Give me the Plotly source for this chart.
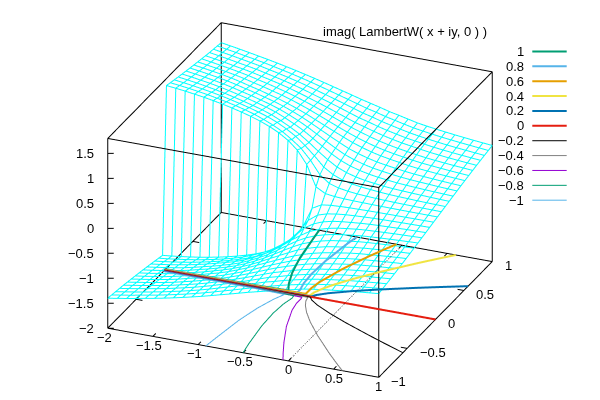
import plotly.graph_objects as go

x_grid = [-2,-1.897,-1.793,-1.69,-1.586,-1.483,-1.379,-1.276,-1.172,-1.069,-.966,-.862,-.759,-.655,-.552,-.448,-.345,-.241,-.138,-.034,.069,.172,.276,.379,.483,.586,.69,.793,.897,1]
y_grid = [-1,-.931,-.862,-.793,-.724,-.655,-.586,-.517,-.448,-.379,-.31,-.241,-.172,-.103,-.0345,.0345,.103,.172,.241,.31,.379,.448,.517,.586,.655,.724,.793,.862,.931,1]
z_m100 = [-1.40,-1.369,-1.337,-1.303,-1.268,-1.233,-1.195,-1.155,-1.113,-1.069,-1.024,-.975,-.925,-.875,-.825,-.773,-.727,-.68,-.63,-.59,-.548,-.505,-.475,-.448,-.425,-.402,-.381,-.361,-.343,-.325]
z_m093 = [-1.414,-1.383,-1.352,-1.317,-1.283,-1.248,-1.208,-1.167,-1.125,-1.079,-1.031,-.979,-.926,-.873,-.819,-.763,-.708,-.663,-.612,-.569,-.527,-.486,-.456,-.428,-.403,-.381,-.36,-.341,-.323,-.305]
z_m086 = [-1.429,-1.398,-1.366,-1.332,-1.298,-1.263,-1.221,-1.18,-1.136,-1.089,-1.038,-.983,-.928,-.871,-.813,-.753,-.694,-.647,-.594,-.549,-.507,-.467,-.436,-.408,-.382,-.359,-.339,-.321,-.303,-.286]
z_m079 = [-1.443,-1.412,-1.381,-1.346,-1.313,-1.278,-1.235,-1.192,-1.148,-1.099,-1.046,-.987,-.929,-.869,-.807,-.743,-.68,-.63,-.576,-.528,-.486,-.448,-.417,-.388,-.36,-.338,-.318,-.3,-.283,-.267]
z_m072 = [-1.459,-1.428,-1.397,-1.362,-1.329,-1.293,-1.249,-1.206,-1.16,-1.11,-1.054,-.993,-.931,-.867,-.80,-.732,-.665,-.611,-.555,-.505,-.462,-.425,-.394,-.365,-.337,-.316,-.296,-.279,-.262,-.247]
z_m066 = [-1.477,-1.447,-1.417,-1.384,-1.349,-1.311,-1.265,-1.221,-1.172,-1.122,-1.065,-1.001,-.936,-.865,-.792,-.719,-.648,-.586,-.527,-.475,-.432,-.396,-.365,-.335,-.309,-.289,-.271,-.255,-.24,-.225]
z_m059 = [-1.495,-1.466,-1.436,-1.404,-1.369,-1.328,-1.28,-1.236,-1.185,-1.135,-1.076,-1.01,-.94,-.863,-.785,-.706,-.631,-.561,-.50,-.446,-.402,-.366,-.336,-.306,-.281,-.263,-.246,-.23,-.216,-.203]
z_m052 = [-1.513,-1.486,-1.456,-1.425,-1.388,-1.345,-1.295,-1.25,-1.196,-1.147,-1.087,-1.018,-.944,-.86,-.777,-.693,-.614,-.535,-.471,-.416,-.372,-.337,-.307,-.277,-.254,-.237,-.221,-.206,-.193,-.181]
z_m045 = [-1.532,-1.506,-1.476,-1.446,-1.41,-1.367,-1.318,-1.273,-1.219,-1.168,-1.107,-1.034,-.955,-.865,-.77,-.675,-.585,-.495,-.43,-.375,-.33,-.298,-.27,-.243,-.222,-.207,-.193,-.18,-.168,-.158]
z_m038 = [-1.552,-1.526,-1.496,-1.466,-1.43,-1.389,-1.341,-1.296,-1.244,-1.19,-1.128,-1.052,-.967,-.872,-.765,-.655,-.55,-.455,-.385,-.33,-.287,-.257,-.23,-.207,-.19,-.177,-.165,-.153,-.143,-.134]
z_m031 = [-1.572,-1.547,-1.517,-1.487,-1.452,-1.411,-1.365,-1.32,-1.269,-1.215,-1.151,-1.07,-.98,-.88,-.76,-.635,-.515,-.415,-.34,-.285,-.245,-.215,-.192,-.172,-.158,-.147,-.136,-.127,-.118,-.11]
z_m024 = [-1.593,-1.568,-1.54,-1.508,-1.473,-1.435,-1.39,-1.343,-1.293,-1.24,-1.175,-1.09,-.995,-.888,-.757,-.613,-.48,-.365,-.29,-.236,-.198,-.173,-.151,-.135,-.125,-.115,-.106,-.099,-.092,-.086]
z_m017 = [-1.615,-1.592,-1.565,-1.536,-1.503,-1.466,-1.424,-1.38,-1.331,-1.276,-1.215,-1.137,-1.04,-.925,-.775,-.602,-.412,-.293,-.22,-.175,-.148,-.13,-.112,-.099,-.09,-.083,-.076,-.07,-.066,-.062]
z_m010 = [-1.637,-1.616,-1.591,-1.563,-1.533,-1.497,-1.458,-1.415,-1.366,-1.31,-1.24,-1.16,-1.065,-.94,-.797,-.593,-.337,-.198,-.14,-.109,-.089,-.077,-.067,-.0595,-.054,-.0495,-.0457,-.0424,-.0397,-.0372]
z_m003 = [-1.66,-1.64,-1.617,-1.59,-1.562,-1.528,-1.492,-1.45,-1.402,-1.35,-1.29,-1.215,-1.125,-1.005,-.845,-.59,-.175,-.073,-.048,-.037,-.03,-.026,-.0226,-.0202,-.0182,-.0167,-.0154,-.0142,-.0133,-.0125]
z_p003 = [1.66,1.64,1.617,1.59,1.562,1.528,1.492,1.45,1.402,1.35,1.29,1.215,1.125,1.005,.845,.59,.175,.073,.048,.037,.03,.026,.0226,.0202,.0182,.0167,.0154,.0142,.0133,.0125]
z_p010 = [1.637,1.616,1.591,1.563,1.533,1.497,1.458,1.415,1.366,1.31,1.24,1.16,1.065,.94,.797,.593,.337,.198,.14,.109,.089,.077,.067,.0595,.054,.0495,.0457,.0424,.0397,.0372]
z_p017 = [1.615,1.592,1.565,1.536,1.503,1.466,1.424,1.38,1.331,1.276,1.215,1.137,1.04,.925,.775,.602,.412,.293,.22,.175,.148,.13,.112,.099,.09,.083,.076,.07,.066,.062]
z_p024 = [1.593,1.568,1.54,1.508,1.473,1.435,1.39,1.343,1.293,1.24,1.175,1.09,.995,.888,.757,.613,.48,.365,.29,.236,.198,.173,.151,.135,.125,.115,.106,.099,.092,.086]
z_p031 = [1.572,1.547,1.517,1.487,1.452,1.411,1.365,1.32,1.269,1.215,1.151,1.07,.98,.88,.76,.635,.515,.415,.34,.285,.245,.215,.192,.172,.158,.147,.136,.127,.118,.11]
z_p038 = [1.552,1.526,1.496,1.466,1.43,1.389,1.341,1.296,1.244,1.19,1.128,1.052,.967,.872,.765,.655,.55,.455,.385,.33,.287,.257,.23,.207,.19,.177,.165,.153,.143,.134]
z_p045 = [1.532,1.506,1.476,1.446,1.41,1.367,1.318,1.273,1.219,1.168,1.107,1.034,.955,.865,.77,.675,.585,.495,.43,.375,.33,.298,.27,.243,.222,.207,.193,.18,.168,.158]
z_p052 = [1.513,1.486,1.456,1.425,1.388,1.345,1.295,1.25,1.196,1.147,1.087,1.018,.944,.86,.777,.693,.614,.535,.471,.416,.372,.337,.307,.277,.254,.237,.221,.206,.193,.181]
z_p059 = [1.495,1.466,1.436,1.404,1.369,1.328,1.28,1.236,1.185,1.135,1.076,1.01,.94,.863,.785,.706,.631,.561,.50,.446,.402,.366,.336,.306,.281,.263,.246,.23,.216,.203]
z_p066 = [1.477,1.447,1.417,1.384,1.349,1.311,1.265,1.221,1.172,1.122,1.065,1.001,.936,.865,.792,.719,.648,.586,.527,.475,.432,.396,.365,.335,.309,.289,.271,.255,.24,.225]
z_p072 = [1.459,1.428,1.397,1.362,1.329,1.293,1.249,1.206,1.16,1.11,1.054,.993,.931,.867,.80,.732,.665,.611,.555,.505,.462,.425,.394,.365,.337,.316,.296,.279,.262,.247]
z_p079 = [1.443,1.412,1.381,1.346,1.313,1.278,1.235,1.192,1.148,1.099,1.046,.987,.929,.869,.807,.743,.68,.63,.576,.528,.486,.448,.417,.388,.36,.338,.318,.3,.283,.267]
z_p086 = [1.429,1.398,1.366,1.332,1.298,1.263,1.221,1.18,1.136,1.089,1.038,.983,.928,.871,.813,.753,.694,.647,.594,.549,.507,.467,.436,.408,.382,.359,.339,.321,.303,.286]
z_p093 = [1.414,1.383,1.352,1.317,1.283,1.248,1.208,1.167,1.125,1.079,1.031,.979,.926,.873,.819,.763,.708,.663,.612,.569,.527,.486,.456,.428,.403,.381,.36,.341,.323,.305]
z_p100 = [1.40,1.369,1.337,1.303,1.268,1.233,1.195,1.155,1.113,1.069,1.024,.975,.925,.875,.825,.773,.727,.68,.63,.59,.548,.505,.475,.448,.425,.402,.381,.361,.343,.325]
z_rows = [z_m100,z_m093,z_m086,z_m079,z_m072,z_m066,z_m059,z_m052,z_m045,z_m038,z_m031,z_m024,z_m017,z_m010,z_m003,
          z_p003,z_p010,z_p017,z_p024,z_p031,z_p038,z_p045,z_p052,z_p059,z_p066,z_p072,z_p079,z_p086,z_p093,z_p100]

# contour lines on the base plane
c100_x=[-2,-1,-.65,-.709,-.778,-.8415,-.895,-.915]; c100_y=[.02,.025,.034,.136,.305,.54,.865,1]
c080_x=[-2,-1,-.55,-.545,-.572,-.584,-.574,-.531,-.502]; c080_y=[.017,.02,.03,.07,.181,.339,.557,.855,1]
c060_x=[-2,-1,-.46,-.455,-.456,-.435,-.339,-.212,-.123,-.06]; c060_y=[.012,.015,.03,.05,.129,.241,.495,.742,.897,1]
c040_x=[-2,-1,-.41,-.401,-.389,-.351,-.278,-.156,.035,.317,.502,.597]; c040_y=[.008,.01,.015,.0256,.074,.142,.238,.368,.545,.782,.928,1]
c020_x=[-2,-1,-.38,-.37,-.345,-.2475,-.04,.19,.525,.742,1]; c020_y=[.004,.005,.006,.0166,.042,.101,.196,.288,.411,.487,.575]
c000_x=[-2,1]; c000_y=[0,0]
cm02_x=[-2,-1,-.38,-.37,-.345,-.2475,-.04,.19,.525,.742,1]; cm02_y=[-.004,-.005,-.006,-.0166,-.042,-.101,-.196,-.288,-.411,-.487,-.575]
cm04_x=[-2,-1,-.41,-.401,-.389,-.351,-.278,-.156,.035,.317,.502,.597]; cm04_y=[-.008,-.01,-.015,-.0256,-.074,-.142,-.238,-.368,-.545,-.782,-.928,-1]
cm06_x=[-2,-1,-.46,-.455,-.456,-.435,-.339,-.212,-.123,-.06]; cm06_y=[-.012,-.015,-.03,-.05,-.129,-.241,-.495,-.742,-.897,-1]
cm08_x=[-2,-1,-.55,-.545,-.572,-.584,-.574,-.531,-.502]; cm08_y=[-.017,-.02,-.03,-.07,-.181,-.339,-.557,-.855,-1]
cm10_x=[-2,-1,-.65,-.709,-.778,-.8415,-.895,-.915]; cm10_y=[-.02,-.025,-.034,-.136,-.305,-.54,-.865,-1]

levels = ['1','0.8','0.6','0.4','0.2','0','\u22120.2','\u22120.4','\u22120.6','\u22120.8','\u22121']
colors = ['#009e73','#56b4e9','#e69f00','#f0e442','#0072b2','#e51e10','#000000','#808080','#9400d3','#009e73','#56b4e9']
widths = [4,4,4,4,4,4,2,2,2,2,2]
cx = [c100_x,c080_x,c060_x,c040_x,c020_x,c000_x,cm02_x,cm04_x,cm06_x,cm08_x,cm10_x]
cy = [c100_y,c080_y,c060_y,c040_y,c020_y,c000_y,cm02_y,cm04_y,cm06_y,cm08_y,cm10_y]
x_ticks=[-2,-1.5,-1,-.5,0,.5,1]; x_labels=['\u22122','\u22121.5','\u22121','\u22120.5','0','0.5','1']
y_ticks=[-1,-.5,0,.5,1]; y_labels=['\u22121','\u22120.5','0','0.5','1']
z_ticks=[-2,-1.5,-1,-.5,0,.5,1,1.5]; z_labels=['\u22122','\u22121.5','\u22121','\u22120.5','0','0.5','1','1.5']
xr=[-2,1]; yr=[-1,1]; zr=[-2,1.8]
pad=0.02
xr_axis=[xr[0]-pad,xr[1]+pad]; yr_axis=[yr[0]-pad,yr[1]+pad]; zr_axis=[zr[0]-pad,zr[1]+pad]
FONT=dict(family='Liberation Sans',size=13,color='black')

fig=go.Figure()
xs=[];ys=[];zs=[]
for j,yv in enumerate(y_grid):
    for i,xv in enumerate(x_grid):
        xs.append(xv);ys.append(yv);zs.append(z_rows[j][i])
    xs.append(None);ys.append(None);zs.append(None)
for i,xv in enumerate(x_grid):
    for j,yv in enumerate(y_grid):
        xs.append(xv);ys.append(yv);zs.append(z_rows[j][i])
    xs.append(None);ys.append(None);zs.append(None)
fig.add_trace(go.Scatter3d(x=xs,y=ys,z=zs,mode='lines',line=dict(color='#00ffff',width=2),showlegend=False,connectgaps=False))
# box
bx=[];by=[];bz=[]
for z in zr:
    bx+=[xr[0],xr[1],xr[1],xr[0],xr[0],None]; by+=[yr[0],yr[0],yr[1],yr[1],yr[0],None]; bz+=[z,z,z,z,z,None]
for a in xr:
    for b in yr:
        bx+=[a,a,None]; by+=[b,b,None]; bz+=[zr[0],zr[1],None]
# tick marks pointing into the box
for v in x_ticks:
    bx+=[v,v,None,v,v,None]; by+=[yr[0],yr[0]+.05,None,yr[1],yr[1]-.05,None]; bz+=[zr[0],zr[0],None,zr[0],zr[0],None]
for v in y_ticks:
    bx+=[xr[1],xr[1]-.07,None,xr[0],xr[0]+.07,None]; by+=[v,v,None,v,v,None]; bz+=[zr[0],zr[0],None,zr[0],zr[0],None]
for v in z_ticks:
    bx+=[xr[0],xr[0]+.056,None]; by+=[yr[0],yr[0]+.016,None]; bz+=[v,v,None]
fig.add_trace(go.Scatter3d(x=bx,y=by,z=bz,mode='lines',line=dict(color='black',width=2),showlegend=False,connectgaps=False))
# overlay scene: zero axis and contours are drawn over the surface
fig.add_trace(go.Scatter3d(x=[0,0],y=yr,z=[zr[0],zr[0]],mode='lines',line=dict(color='black',width=1.5,dash='dot'),showlegend=False,scene='scene2'))
for k in range(len(levels)):
    fig.add_trace(go.Scatter3d(x=cx[k],y=cy[k],z=[zr[0]]*len(cx[k]),mode='lines',line=dict(color=colors[k],width=widths[k]),showlegend=False,scene='scene2'))

ax=dict(showbackground=False,showgrid=False,zeroline=False,showline=False,ticks='',showticklabels=False,title=dict(text=''),showspikes=False)
scene_anns=[]
for v,t in zip(x_ticks,x_labels):
    scene_anns.append(dict(x=v,y=yr[0],z=zr[0],text=t,showarrow=False,xanchor='center',yanchor='middle',xshift=-3.5 if v<0 else 0,yshift=-9,font=FONT))
for v,t in zip(y_ticks,y_labels):
    scene_anns.append(dict(x=xr[1],y=v,z=zr[0],text=t,showarrow=False,xanchor='left',yanchor='middle',xshift=10.5,yshift=-4,font=FONT))
for v,t in zip(z_ticks,z_labels):
    scene_anns.append(dict(x=xr[0],y=yr[0],z=v,text=t,showarrow=False,xanchor='right',yanchor='middle',xshift=-12,yshift=0,font=FONT))

anns=[dict(text='imag( LambertW( x + iy, 0 ) )',x=405/600,y=1-31.7/400,xref='paper',yref='paper',showarrow=False,xanchor='center',yanchor='middle',font=FONT)]
shapes=[]
for k,lab in enumerate(levels):
    py=1-(51.5+14.87*k)/400
    anns.append(dict(text=lab,x=525.7/600,y=py,xref='paper',yref='paper',showarrow=False,xanchor='right',yanchor='middle',font=FONT))
    shapes.append(dict(type='line',xref='paper',yref='paper',x0=532.3/600,x1=566.7/600,y0=py,y1=py,line=dict(color=colors[k],width=2 if k<6 else 1)))
cam=dict(projection=dict(type='orthographic'),center=dict(x=0,y=0,z=0),eye=dict(x=0.47,y=-1.115,z=0.576))
asp=dict(x=1.49,y=1.49,z=1.062)
fig.update_layout(width=600,height=400,margin=dict(l=0,r=0,t=0,b=0),paper_bgcolor='rgba(0,0,0,0)',plot_bgcolor='rgba(0,0,0,0)',showlegend=False,annotations=anns,shapes=shapes,
 scene=dict(domain=dict(x=[0,1],y=[0,1]),aspectmode='manual',aspectratio=asp,annotations=scene_anns,bgcolor='rgba(0,0,0,0)',
  xaxis=dict(ax,range=xr_axis),yaxis=dict(ax,range=yr_axis),zaxis=dict(ax,range=zr_axis),camera=cam),
 scene2=dict(domain=dict(x=[0,1],y=[0,1]),aspectmode='manual',aspectratio=asp,bgcolor='rgba(0,0,0,0)',
  xaxis=dict(ax,range=xr_axis),yaxis=dict(ax,range=yr_axis),zaxis=dict(ax,range=zr_axis),camera=cam))
fig.write_html('out.html',config=dict(displayModeBar=False),post_script="document.body.style.margin='0';")
